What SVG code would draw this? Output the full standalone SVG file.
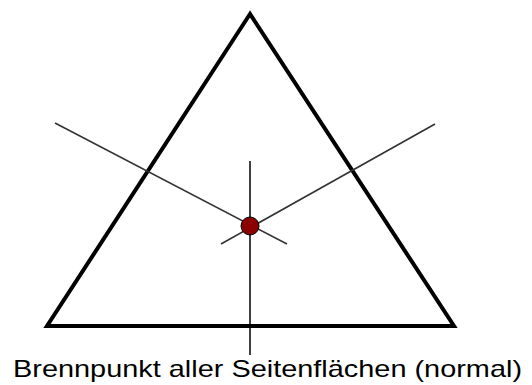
<svg xmlns="http://www.w3.org/2000/svg" width="532" height="385" viewBox="0 0 532 385">
<style>
.tri{fill:none;stroke:#000;stroke-width:4;stroke-linejoin:miter}
.ray{stroke:#333;stroke-width:1.6;fill:none}
.axis{stroke:#000;stroke-width:1.5;fill:none}
.lbl{font-family:"Liberation Sans",Arial,sans-serif;font-size:23px;fill:#000}
</style>
<rect width="532" height="385" fill="#fff"/>
<g id="triangle">
<polygon class="tri" points="250,14 47,326 454,326"/>
</g>
<g id="connectors">
<line class="ray" x1="55" y1="123" x2="287" y2="244"/>
<line class="ray" x1="435" y1="124" x2="221" y2="244"/>
<line class="axis" x1="250" y1="161" x2="250" y2="355"/>
</g>
<g id="focus">
<circle cx="250" cy="226" r="9" fill="#8b0000" stroke="#000" stroke-width="1"/>
</g>
<g id="label">
<text class="lbl" transform="translate(13,377) scale(1.256,1)" x="0" y="0">Brennpunkt aller Seitenflächen (normal)</text>
</g>
</svg>
